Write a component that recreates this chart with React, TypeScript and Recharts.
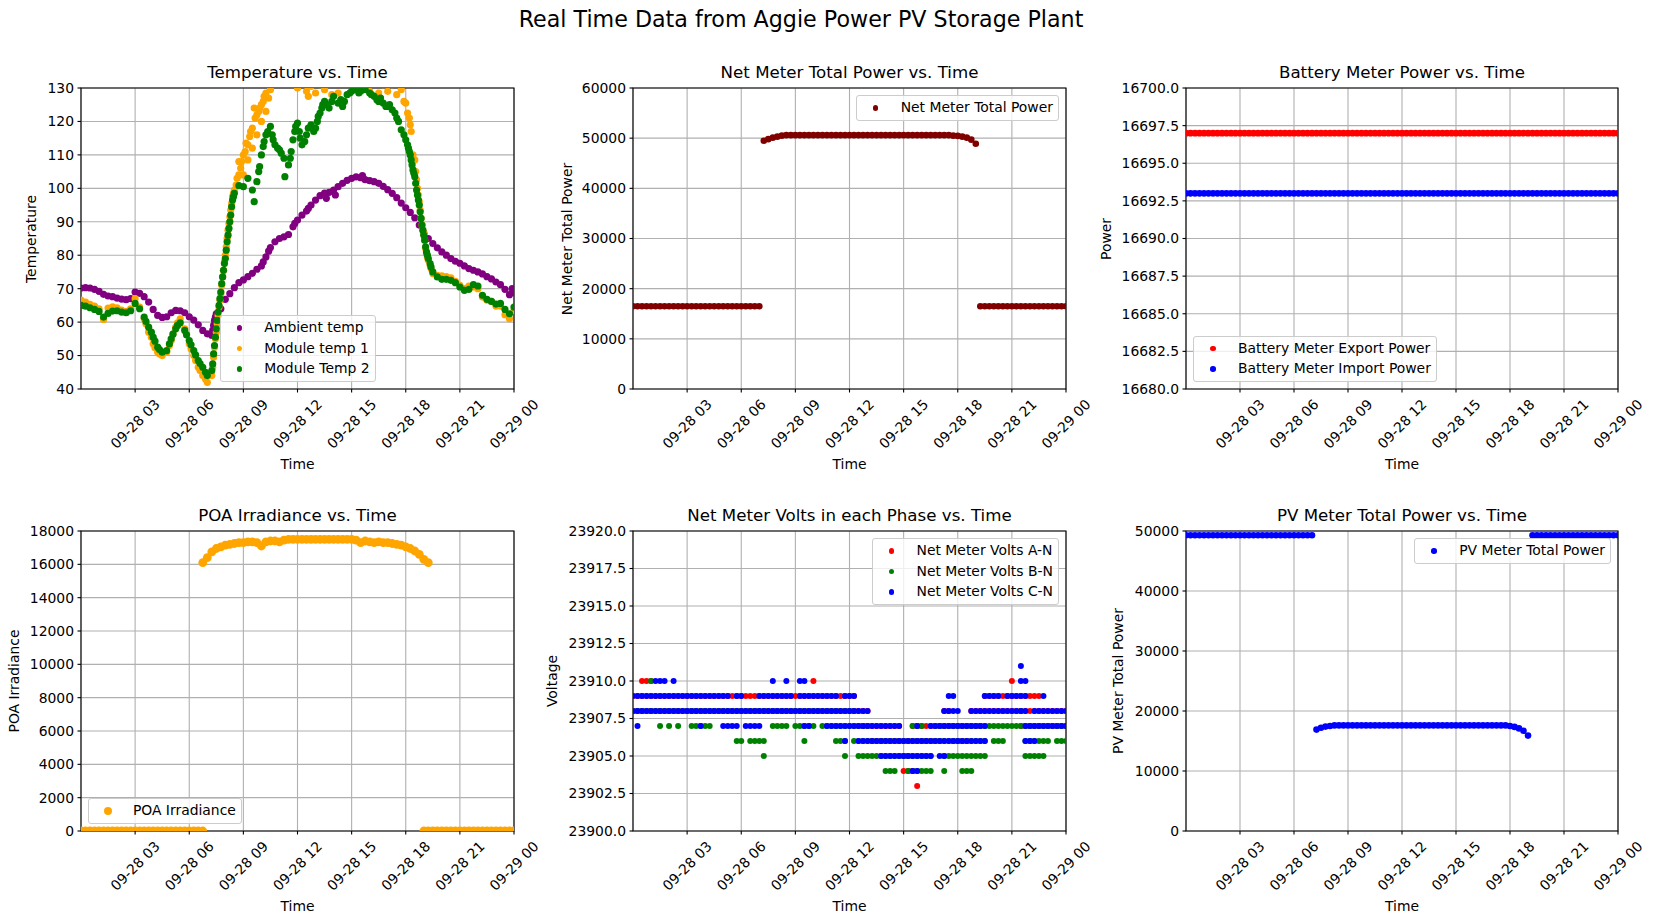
import React from 'react';
import { ScatterChart, Scatter, XAxis, YAxis, CartesianGrid, ReferenceArea } from 'recharts';

const FONT = '"DejaVu Sans", sans-serif';

// 15 minute readings, hours after 09-28 00:00
const hours = [
  0, 0.25, 0.5, 0.75, 1, 1.25, 1.5, 1.75, 2, 2.25, 2.5, 2.75,
  3, 3.25, 3.5, 3.75, 4, 4.25, 4.5, 4.75, 5, 5.25, 5.5, 5.75,
  6, 6.25, 6.5, 6.75, 7, 7.25, 7.5, 7.75, 8, 8.25, 8.5, 8.75,
  9, 9.25, 9.5, 9.75, 10, 10.25, 10.5, 10.75, 11, 11.25, 11.5, 11.75,
  12, 12.25, 12.5, 12.75, 13, 13.25, 13.5, 13.75, 14, 14.25, 14.5, 14.75,
  15, 15.25, 15.5, 15.75, 16, 16.25, 16.5, 16.75, 17, 17.25, 17.5, 17.75,
  18, 18.25, 18.5, 18.75, 19, 19.25, 19.5, 19.75, 20, 20.25, 20.5, 20.75,
  21, 21.25, 21.5, 21.75, 22, 22.25, 22.5, 22.75, 23, 23.25, 23.5, 23.75,
  24,
];

const timeTicks = [3, 6, 9, 12, 15, 18, 21, 24];
const timeTickLabels = ['09-28 03', '09-28 06', '09-28 09', '09-28 12', '09-28 15', '09-28 18', '09-28 21', '09-29 00'];

const tempTicks = [40, 50, 60, 70, 80, 90, 100, 110, 120, 130];
const netPowerTicks = [0, 10000, 20000, 30000, 40000, 50000, 60000];
const batteryTicks = [16680, 16682.5, 16685, 16687.5, 16690, 16692.5, 16695, 16697.5, 16700];
const poaTicks = [0, 2000, 4000, 6000, 8000, 10000, 12000, 14000, 16000, 18000];
const voltTicks = [23900, 23902.5, 23905, 23907.5, 23910, 23912.5, 23915, 23917.5, 23920];
const pvTicks = [0, 10000, 20000, 30000, 40000, 50000];

const ambientTemp = [
  70.2, 70.3, 70.2, 69.8, 69.2, 68.3, 67.8, 67.6, 67.2, 66.9, 66.7, 67.0,
  69.0, 68.6, 67.6, 66.0, 63.8, 62.0, 61.4, 61.6, 62.8, 63.5, 63.4, 62.8,
  61.6, 60.6, 59.2, 57.5, 56.5, 56.0, 62.5, 64.0, 66.8, 68.5, 70.3, 71.8,
  72.6, 73.6, 74.6, 75.8, 76.8, 79.5, 82.3, 84.0, 85.0, 85.5, 86.2, 88.5,
  90.5, 92.0, 93.2, 95.0, 96.5, 97.8, 98.6, 98.8, 99.5, 100.5, 101.5, 102.4,
  103.0, 103.4, 103.2, 102.6, 102.3, 102.0, 101.5, 100.6, 99.6, 98.5, 97.2, 95.6,
  94.2, 92.8, 91.2, 89.0, 86.6, 85.0, 83.5, 82.2, 81.0, 80.0, 79.0, 78.2,
  77.6, 76.8, 76.0, 75.5, 75.0, 74.4, 73.6, 72.9, 72.0, 71.2, 69.8, 68.2,
  68.8,
];
const ambientExtra = [
  [7.3, 57.5], [7.35, 59], [7.4, 60.5], [7.45, 61.5], [10.1, 78], [10.4, 81.2],
  [11.85, 89.5], [12.6, 94], [13.6, 97], [14.1, 98], [15.6, 103.8], [23.9, 70],
];

const module1Temp = [
  66.6, 66.0, 65.3, 64.8, 64.0, 60.8, 64.2, 64.6, 64.3, 63.6, 63.2, 64.0,
  67.0, 64.5, 61.0, 57.0, 53.5, 51.0, 50.0, 51.0, 54.5, 58.5, 61.0, 58.0,
  53.5, 50.0, 46.5, 44.0, 42.0, 44.0, 57.0, 68.5, 80.0, 91.5, 99.5, 104.0,
  110.0, 113.0, 118.0, 122.0, 125.0, 128.5, 129.5, 134.0, 136.0, 135.0, 133.0, 136.0,
  130.0, 133.0, 129.0, 130.5, 128.5, 131.0, 129.5, 134.0, 133.0, 128.5, 135.0, 136.0,
  137.0, 138.0, 137.0, 136.0, 129.0, 133.0, 128.5, 131.0, 129.0, 131.0, 128.0, 129.5,
  125.5, 119.0, 108.5, 96.0, 86.5, 78.5, 74.5, 74.0, 73.8, 73.6, 73.2, 72.2,
  71.0, 70.0, 70.8, 70.5, 70.0, 67.5, 66.6, 66.2, 64.8, 64.8, 62.2, 61.0,
  63.5,
];
const module1Extra = [
  [3.6, 59.5], [3.9, 55.5], [4.1, 52.3], [4.35, 50.5], [4.9, 53], [5.1, 56.5], [5.35, 59.8],
  [5.85, 56.3], [6.1, 52], [6.35, 48.5], [6.6, 45.5], [6.9, 43],
  [7.3, 46.5], [7.35, 49.5], [7.4, 52.5], [7.45, 55], [7.55, 59.5], [7.6, 62], [7.65, 64.5],
  [7.7, 66.5], [7.8, 71], [7.85, 73.5], [7.9, 75.5], [7.95, 78], [8.05, 82.5], [8.1, 85],
  [8.15, 87.5], [8.2, 89.5], [8.3, 93.5], [8.35, 95.5], [8.4, 97.5], [8.45, 98.5],
  [8.6, 101], [8.65, 103], [8.75, 108], [8.85, 106], [8.9, 108], [9.0, 104], [9.1, 111],
  [9.15, 113.5], [9.25, 108.5], [9.35, 115.5], [9.4, 117], [9.5, 112], [9.6, 124], [9.65, 121],
  [9.75, 116], [9.85, 123], [9.9, 124], [10.0, 120], [10.1, 126], [10.15, 127.5], [10.25, 123],
  [10.4, 127], [12.6, 127.5], [13.9, 128], [16.6, 127], [17.9, 126], [18.1, 122.5], [18.2, 121],
  [18.3, 117], [18.4, 110], [18.55, 105], [18.6, 102.5], [18.65, 100], [18.7, 98], [18.8, 93.5],
  [18.85, 91], [18.9, 89], [18.95, 87.5], [19.05, 84.5], [19.1, 82], [19.15, 80.5], [19.2, 79.5],
  [19.35, 77], [19.4, 76],
];

const module2Temp = [
  65.0, 64.8, 64.3, 63.8, 63.2, 61.5, 62.6, 63.3, 63.4, 63.0, 62.8, 63.4,
  65.6, 64.0, 61.5, 58.5, 55.5, 52.5, 51.0, 51.5, 55.0, 58.0, 59.8, 57.5,
  54.5, 51.5, 48.5, 46.5, 44.0, 45.5, 58.0, 69.0, 79.0, 90.0, 98.5, 100.8,
  100.5, 103.0, 99.5, 102.0, 110.0, 116.0, 118.5, 113.0, 111.5, 109.0, 107.0, 114.5,
  119.5, 113.0, 116.0, 119.0, 118.0, 122.5, 126.0, 124.0, 127.5, 125.5, 124.5, 128.0,
  129.0, 129.5, 129.0, 129.5, 128.5, 127.5, 126.0, 125.5, 124.5, 123.5, 121.0, 117.5,
  114.5, 110.0, 103.5, 95.0, 86.0, 79.0, 75.0, 73.5, 72.8, 72.8, 72.5, 71.8,
  70.5, 69.5, 69.8, 71.2, 70.8, 68.0, 66.8, 66.2, 65.4, 65.6, 63.8, 62.5,
  64.5,
];
const module2Extra = [
  [3.6, 60.2], [3.9, 57], [4.1, 54.3], [4.35, 51.8], [4.9, 53.5], [5.1, 56.4], [5.35, 59],
  [5.85, 56.2], [6.1, 53.2], [6.35, 50.2], [6.6, 47.6], [6.9, 45],
  [7.3, 47.5], [7.35, 50.5], [7.4, 53], [7.45, 55.5], [7.55, 60.5], [7.6, 63], [7.65, 65],
  [7.7, 67], [7.8, 71.5], [7.85, 73.5], [7.9, 75.5], [7.95, 77.5], [8.05, 81.5], [8.1, 84],
  [8.15, 86], [8.2, 88], [8.3, 92], [8.35, 94.5], [8.4, 96.5], [8.45, 97.5], [9.6, 96],
  [9.85, 105], [9.9, 106.5], [10.1, 112.5], [10.15, 114], [10.35, 117], [10.6, 116], [10.65, 114.5],
  [10.9, 112], [11.1, 110.5], [11.3, 103.5], [11.6, 109], [11.65, 111], [11.85, 117], [11.9, 118.5],
  [12.1, 117], [12.15, 115], [12.4, 114], [12.6, 118], [12.9, 117], [13.1, 120], [13.15, 121.5],
  [13.35, 124], [13.4, 125], [13.6, 125], [13.9, 126], [14.4, 126.5], [14.6, 126], [14.9, 128.5],
  [15.4, 128.5], [16.1, 128], [16.4, 126.5], [16.6, 127], [16.9, 124.5], [17.1, 125], [17.4, 122.5],
  [17.6, 120], [17.9, 116],
  [18.1, 113], [18.15, 112], [18.2, 111], [18.3, 108.5], [18.35, 107], [18.4, 105.5], [18.45, 104.5],
  [18.55, 101.5], [18.6, 99.5], [18.65, 98], [18.7, 96.5], [18.8, 93], [18.85, 91], [18.9, 89],
  [18.95, 87.5], [19.05, 84.5], [19.1, 82.5], [19.15, 81], [19.2, 80], [19.35, 77.5], [19.4, 76.5],
];

const netTotalPower = [
  16500, 16500, 16500, 16500, 16500, 16500, 16500, 16500, 16500, 16500, 16500, 16500,
  16500, 16500, 16500, 16500, 16500, 16500, 16500, 16500, 16500, 16500, 16500, 16500,
  16500, 16500, 16500, 16500, 16500, 49500, 49800, 50100, 50300, 50500, 50600, 50600,
  50600, 50600, 50600, 50600, 50600, 50600, 50600, 50600, 50600, 50600, 50600, 50600,
  50600, 50600, 50600, 50600, 50600, 50600, 50600, 50600, 50600, 50600, 50600, 50600,
  50600, 50600, 50600, 50600, 50600, 50600, 50600, 50600, 50600, 50600, 50600, 50500,
  50450, 50300, 50100, 49700, 48900, 16500, 16500, 16500, 16500, 16500, 16500, 16500,
  16500, 16500, 16500, 16500, 16500, 16500, 16500, 16500, 16500, 16500, 16500, 16500,
  16500,
];

const batteryExport = [
  16697, 16697, 16697, 16697, 16697, 16697, 16697, 16697, 16697, 16697, 16697, 16697,
  16697, 16697, 16697, 16697, 16697, 16697, 16697, 16697, 16697, 16697, 16697, 16697,
  16697, 16697, 16697, 16697, 16697, 16697, 16697, 16697, 16697, 16697, 16697, 16697,
  16697, 16697, 16697, 16697, 16697, 16697, 16697, 16697, 16697, 16697, 16697, 16697,
  16697, 16697, 16697, 16697, 16697, 16697, 16697, 16697, 16697, 16697, 16697, 16697,
  16697, 16697, 16697, 16697, 16697, 16697, 16697, 16697, 16697, 16697, 16697, 16697,
  16697, 16697, 16697, 16697, 16697, 16697, 16697, 16697, 16697, 16697, 16697, 16697,
  16697, 16697, 16697, 16697, 16697, 16697, 16697, 16697, 16697, 16697, 16697, 16697,
  16697,
];
const batteryImport = [
  16693, 16693, 16693, 16693, 16693, 16693, 16693, 16693, 16693, 16693, 16693, 16693,
  16693, 16693, 16693, 16693, 16693, 16693, 16693, 16693, 16693, 16693, 16693, 16693,
  16693, 16693, 16693, 16693, 16693, 16693, 16693, 16693, 16693, 16693, 16693, 16693,
  16693, 16693, 16693, 16693, 16693, 16693, 16693, 16693, 16693, 16693, 16693, 16693,
  16693, 16693, 16693, 16693, 16693, 16693, 16693, 16693, 16693, 16693, 16693, 16693,
  16693, 16693, 16693, 16693, 16693, 16693, 16693, 16693, 16693, 16693, 16693, 16693,
  16693, 16693, 16693, 16693, 16693, 16693, 16693, 16693, 16693, 16693, 16693, 16693,
  16693, 16693, 16693, 16693, 16693, 16693, 16693, 16693, 16693, 16693, 16693, 16693,
  16693,
];

const poaDay = [
  null, null, null, null, null, null, null, null, null, null, null, null,
  null, null, null, null, null, null, null, null, null, null, null, null,
  null, null, null, 16100, 16400, 16750, 16950, 17050, 17150, 17200, 17250, 17300,
  17300, 17350, 17350, 17300, 17100, 17350, 17400, 17400, 17350, 17450, 17500, 17500,
  17500, 17500, 17500, 17500, 17500, 17500, 17500, 17500, 17500, 17500, 17500, 17500,
  17500, 17450, 17300, 17400, 17350, 17300, 17350, 17300, 17300, 17250, 17200, 17150,
  17050, 16950, 16800, 16600, 16300, 16100, null, null, null, null, null, null,
  null, null, null, null, null, null, null, null, null, null, null, null,
  null,
];
const poaNight = [
  0, 0, 0, 0, 0, 0, 0, 0, 0, 0, 0, 0,
  0, 0, 0, 0, 0, 0, 0, 0, 0, 0, 0, 0,
  0, 0, 0, 0, null, null, null, null, null, null, null, null,
  null, null, null, null, null, null, null, null, null, null, null, null,
  null, null, null, null, null, null, null, null, null, null, null, null,
  null, null, null, null, null, null, null, null, null, null, null, null,
  null, null, null, null, 0, 0, 0, 0, 0, 0, 0, 0,
  0, 0, 0, 0, 0, 0, 0, 0, 0, 0, 0, 0,
  0,
];

// readings seen in each 15 minute slot
const voltsAN = [
  [23909, 23908], [23909, 23908], [23910, 23909, 23908], [23910, 23909, 23908],
  [23910, 23909, 23908], [23909, 23908], [23909, 23908], [23909, 23908],
  [23909, 23908], [23909, 23908], [23909, 23908], [23909, 23908],
  [23909, 23908], [23909, 23908], [23909, 23908], [23909, 23908],
  [23909, 23908], [23909, 23908], [23909, 23908], [23909, 23908],
  [23909, 23908], [23909, 23908], [23909, 23908], [23909, 23908],
  [23909, 23908], [23909, 23908], [23909, 23908], [23909, 23908],
  [23909, 23908], [23909, 23908], [23909, 23908], [23909, 23908],
  [23909, 23908], [23909, 23908], [23909, 23908], [23909, 23908],
  [23909, 23908], [23909, 23908], [23909, 23908], [23909, 23908],
  [23910, 23909, 23908], [23909, 23908], [23909, 23908], [23909, 23908],
  [23909, 23908], [23909, 23908], [23909, 23908], [23909, 23908],
  [23909, 23908], [23909, 23908], [23908, 23907], [23908, 23907],
  [23908, 23907], [23907, 23906], [23907, 23906], [23907, 23906],
  [23907, 23906], [23907, 23906], [23907, 23906], [23907, 23906],
  [23906, 23905, 23904], [23906, 23905, 23904], [23907, 23906, 23904], [23907, 23906, 23903],
  [23907, 23906], [23907, 23906], [23907, 23906], [23907, 23906],
  [23907, 23906], [23908, 23907], [23908, 23907], [23907, 23906],
  [23907, 23906], [23907, 23906], [23907, 23906], [23908, 23907],
  [23908, 23907], [23908, 23907], [23909, 23908], [23909, 23908],
  [23909, 23908], [23909, 23908], [23909, 23908], [23909, 23908],
  [23910, 23909, 23908], [23909, 23908], [23909, 23908, 23907], [23909, 23908, 23907],
  [23909, 23908, 23907], [23909, 23908, 23907], [23909, 23908, 23907], [23908, 23907],
  [23908, 23907], [23908, 23907], [23908, 23907], [23908, 23907],
  [23908, 23907],
];
const voltsBN = [
  [23908], [23908], [23908], [23908],
  [23910, 23908], [23908], [23908, 23907], [23908],
  [23908, 23907], [23908], [23908, 23907], [23908],
  [23908], [23908, 23907], [23908, 23907], [23908, 23907],
  [23908, 23907], [23908, 23907], [23908], [23908],
  [23908], [23908], [23908], [23908, 23906],
  [23908, 23906], [23908], [23908, 23906], [23908, 23906],
  [23908, 23906], [23908, 23906, 23905], [23908], [23908, 23907],
  [23908, 23907], [23908, 23907], [23908, 23907], [23908],
  [23908, 23907], [23908, 23907], [23908, 23907, 23906], [23908, 23907],
  [23908, 23907], [23908], [23908, 23907], [23908, 23907],
  [23908, 23907], [23908, 23907, 23906], [23908, 23907, 23906], [23908, 23907, 23906, 23905],
  [23908, 23907], [23908, 23907, 23906], [23907, 23906, 23905], [23907, 23906, 23905],
  [23907, 23906, 23905], [23906, 23905], [23906, 23905], [23906, 23905],
  [23906, 23905, 23904], [23906, 23905, 23904], [23906, 23905, 23904], [23906, 23905],
  [23906, 23905], [23906, 23905, 23904], [23907, 23906, 23905, 23904], [23907, 23906, 23905, 23904],
  [23907, 23906, 23905, 23904], [23906, 23905, 23904], [23906, 23905, 23904], [23907, 23906],
  [23907, 23906], [23907, 23906, 23905, 23904], [23907, 23906, 23905], [23907, 23906, 23905],
  [23907, 23906, 23905], [23907, 23906, 23905, 23904], [23907, 23906, 23905, 23904], [23907, 23906, 23905, 23904],
  [23907, 23906, 23905], [23907, 23906, 23905], [23907, 23906, 23905], [23907],
  [23907, 23906], [23907, 23906], [23907, 23906], [23907],
  [23907], [23907], [23908, 23907], [23907, 23906, 23905],
  [23907, 23906, 23905], [23907, 23906, 23905], [23907, 23906, 23905], [23907, 23906, 23905],
  [23907, 23906], [23907], [23907, 23906], [23907, 23906],
  [23907, 23906],
];
const voltsCN = [
  [23909, 23908], [23909, 23908, 23907], [23909, 23908], [23909, 23908],
  [23909, 23908], [23910, 23909, 23908], [23910, 23909, 23908], [23910, 23909, 23908],
  [23909, 23908], [23910, 23909, 23908], [23909, 23908], [23909, 23908],
  [23909, 23908], [23909, 23908], [23909, 23908], [23909, 23908, 23907],
  [23909, 23908], [23909, 23908], [23909, 23908], [23909, 23908],
  [23909, 23908, 23907], [23909, 23908, 23907], [23908, 23907], [23909, 23908, 23907],
  [23909, 23908], [23908, 23907], [23908, 23907], [23908, 23907],
  [23909, 23908, 23907], [23909, 23908], [23909, 23908], [23910, 23909, 23908],
  [23909, 23908], [23909, 23908], [23910, 23909, 23908], [23909, 23908],
  [23908], [23910, 23909, 23908], [23910, 23909, 23908, 23907], [23909, 23908, 23907],
  [23909, 23908], [23909, 23908], [23909, 23908], [23909, 23908, 23907],
  [23909, 23908, 23907], [23909, 23908, 23907], [23908, 23907], [23909, 23908, 23907, 23906],
  [23909, 23908, 23907], [23909, 23908, 23907], [23908, 23907, 23906], [23908, 23907, 23906],
  [23908, 23907, 23906], [23907, 23906], [23907, 23906], [23907, 23906, 23905],
  [23907, 23906, 23905], [23907, 23906, 23905], [23907, 23906, 23905], [23907, 23906, 23905],
  [23906, 23905], [23906, 23905], [23906, 23905, 23904], [23907, 23906, 23905, 23904],
  [23906, 23905], [23906, 23905], [23907, 23906, 23905], [23907, 23906],
  [23907, 23906, 23905], [23908, 23907, 23906, 23905], [23909, 23908, 23907, 23906], [23909, 23908, 23907, 23906],
  [23908, 23907, 23906], [23907, 23906], [23907, 23906], [23908, 23907, 23906],
  [23908, 23907, 23906], [23908, 23907, 23906], [23909, 23908, 23907, 23906], [23909, 23908],
  [23909, 23908], [23909, 23908], [23908], [23909, 23908],
  [23909, 23908], [23909, 23908], [23911, 23910, 23909, 23908], [23910, 23909, 23908, 23907, 23906],
  [23907, 23906], [23908, 23907, 23906], [23908, 23907], [23909, 23908, 23907],
  [23908, 23907], [23908, 23907], [23908, 23907], [23908, 23907],
  [23908, 23907],
];

const pvTotalPower = [
  49300, 49300, 49300, 49300, 49300, 49300, 49300, 49300, 49300, 49300, 49300, 49300,
  49300, 49300, 49300, 49300, 49300, 49300, 49300, 49300, 49300, 49300, 49300, 49300,
  49300, 49300, 49300, 49300, 49300, 16900, 17200, 17400, 17500, 17600, 17600, 17600,
  17600, 17600, 17600, 17600, 17600, 17600, 17600, 17600, 17600, 17600, 17600, 17600,
  17600, 17600, 17600, 17600, 17600, 17600, 17600, 17600, 17600, 17600, 17600, 17600,
  17600, 17600, 17600, 17600, 17600, 17600, 17600, 17600, 17600, 17600, 17600, 17600,
  17500, 17350, 17100, 16700, 15900, 49300, 49300, 49300, 49300, 49300, 49300, 49300,
  49300, 49300, 49300, 49300, 49300, 49300, 49300, 49300, 49300, 49300, 49300, 49300,
  49300,
];

type Pt = { t: number; v: number };

const onGrid = (vals: (number | null)[]): Pt[] =>
  hours.flatMap((t, i) => (vals[i] == null ? [] : [{ t, v: vals[i] as number }]));
const fromPairs = (pairs: number[][]): Pt[] => pairs.map(([t, v]) => ({ t, v }));
const fromSlots = (slots: number[][]): Pt[] => hours.flatMap((t, i) => slots[i].map((v) => ({ t, v })));

// r: marker radius on the plot, lr: marker radius in the legend
type Series = { name: string; color: string; r: number; lr: number; points: Pt[] };

const asInt = (v: number) => String(v);
const oneDecimal = (v: number) => v.toFixed(1);

function TimeTick(props: any) {
  const { x, y, payload } = props;
  const label = timeTickLabels[timeTicks.indexOf(payload.value)];
  const cy = y + 27.8;
  return (
    <text
      x={x}
      y={cy}
      textAnchor="middle"
      dominantBaseline="central"
      fontSize={13.9}
      fill="#000"
      transform={`rotate(-45 ${x} ${cy})`}
    >
      {label}
    </text>
  );
}

const dot = (color: string, r: number) => (p: any) =>
  p.cx == null ? <g /> : <circle cx={p.cx} cy={p.cy} r={r} fill={color} />;

type LegendPlace = 'upperRight' | 'lowerLeft' | 'lowerCenter';

function PanelLegend({ items, place, left, top, width, height }: {
  items: Series[]; place: LegendPlace; left: number; top: number; width: number; height: number;
}) {
  const pos: React.CSSProperties = {};
  if (place === 'upperRight') {
    pos.right = 1668 - (left + width - 7);
    pos.top = top + 7;
  } else if (place === 'lowerLeft') {
    pos.left = left + 7;
    pos.bottom = 923 - (top + height - 7);
  } else {
    pos.left = left + width / 2;
    pos.bottom = 923 - (top + height - 7);
    pos.transform = 'translateX(-50%)';
  }
  return (
    <div
      style={{
        position: 'absolute',
        background: 'rgba(255,255,255,0.8)',
        border: '1px solid #cccccc',
        borderRadius: 3,
        padding: 5,
        ...pos,
      }}
    >
      {items.map((it, i) => (
        <div key={it.name} style={{ display: 'flex', alignItems: 'center', height: 13.6, marginTop: i ? 7 : 0 }}>
          <div style={{ width: 27.8, display: 'flex', justifyContent: 'center' }}>
            <span style={{ display: 'block', width: it.lr * 2, height: it.lr * 2, borderRadius: '50%', background: it.color }} />
          </div>
          <span style={{ marginLeft: 11.1, fontSize: 13.9, lineHeight: '13.6px', whiteSpace: 'nowrap', color: '#000' }}>
            {it.name}
          </span>
        </div>
      ))}
    </div>
  );
}

type PanelProps = {
  left: number;
  top: number;
  width: number;
  height: number;
  title: string;
  yLabel: string;
  yLabelX: number;
  yDomain: [number, number];
  yTicks: number[];
  yFormat: (v: number) => string;
  series: Series[];
  legend: LegendPlace;
};

function Panel(p: PanelProps) {
  const ML = 80;
  const MT = 40;
  const MR = 60;
  const MB = 90;
  return (
    <>
      <div style={{ position: 'absolute', left: p.left - ML, top: p.top - MT }}>
        <ScatterChart
          width={ML + p.width + MR}
          height={MT + p.height + MB}
          margin={{ top: MT, right: MR, bottom: MB - 80, left: ML - 75 }}
        >
          <XAxis
            type="number"
            dataKey="t"
            domain={[0, 24]}
            ticks={timeTicks}
            interval={0}
            allowDataOverflow
            height={80}
            tickSize={3.5}
            tickMargin={3.5}
            axisLine={false}
            tickLine={{ stroke: '#000', strokeWidth: 1.1 }}
            tick={<TimeTick />}
          />
          <YAxis
            type="number"
            dataKey="v"
            domain={p.yDomain}
            ticks={p.yTicks}
            interval={0}
            allowDataOverflow
            width={75}
            tickSize={3.5}
            tickMargin={3.5}
            axisLine={false}
            tickLine={{ stroke: '#000', strokeWidth: 1.1 }}
            tick={{ fill: '#000', fontSize: 13.9 }}
            tickFormatter={p.yFormat}
          />
          {p.series.map((s, i) => (
            <Scatter
              key={`${s.name}-${i}`}
              name={s.name}
              data={s.points}
              fill={s.color}
              isAnimationActive={false}
              shape={dot(s.color, s.r)}
            />
          ))}
          <CartesianGrid stroke="#b0b0b0" strokeWidth={1.1} />
          <ReferenceArea
            x1={0}
            x2={24}
            y1={p.yDomain[0]}
            y2={p.yDomain[1]}
            fill="none"
            stroke="#000"
            strokeWidth={1.1}
            ifOverflow="visible"
          />
        </ScatterChart>
      </div>
      <div
        style={{
          position: 'absolute',
          left: p.left + p.width / 2 - 300,
          width: 600,
          top: p.top - 25,
          lineHeight: '20px',
          textAlign: 'center',
          fontSize: 16.67,
          color: '#000',
        }}
      >
        {p.title}
      </div>
      <div
        style={{
          position: 'absolute',
          left: p.left + p.width / 2 - 100,
          width: 200,
          top: p.top + p.height + 75 - 9,
          lineHeight: '18px',
          textAlign: 'center',
          fontSize: 13.9,
          color: '#000',
        }}
      >
        Time
      </div>
      <div
        style={{
          position: 'absolute',
          left: p.yLabelX - 150,
          width: 300,
          top: p.top + p.height / 2 - 9,
          lineHeight: '18px',
          textAlign: 'center',
          fontSize: 13.9,
          color: '#000',
          transform: 'rotate(-90deg)',
        }}
      >
        {p.yLabel}
      </div>
      <PanelLegend
        items={p.series}
        place={p.legend}
        left={p.left}
        top={p.top}
        width={p.width}
        height={p.height}
      />
    </>
  );
}

const PURPLE = '#800080';
const ORANGE = '#ffa500';
const GREEN = '#008000';
const MAROON = '#800000';
const RED = '#ff0000';
const BLUE = '#0000ff';

export default function App() {
  const tempSeries: Series[] = [
    { name: 'Ambient temp', color: PURPLE, r: 3.6, lr: 2.8, points: [...onGrid(ambientTemp), ...fromPairs(ambientExtra)] },
    { name: 'Module temp 1', color: ORANGE, r: 3.6, lr: 2.8, points: [...onGrid(module1Temp), ...fromPairs(module1Extra)] },
    { name: 'Module Temp 2', color: GREEN, r: 3.6, lr: 2.8, points: [...onGrid(module2Temp), ...fromPairs(module2Extra)] },
  ];
  const netSeries: Series[] = [
    { name: 'Net Meter Total Power', color: MAROON, r: 3.3, lr: 2.8, points: onGrid(netTotalPower) },
  ];
  const batterySeries: Series[] = [
    { name: 'Battery Meter Export Power', color: RED, r: 3.4, lr: 2.8, points: onGrid(batteryExport) },
    { name: 'Battery Meter Import Power', color: BLUE, r: 3.4, lr: 2.8, points: onGrid(batteryImport) },
  ];
  const poaSeries: Series[] = [
    { name: 'POA Irradiance', color: ORANGE, r: 4.4, lr: 4.2, points: [...onGrid(poaNight), ...onGrid(poaDay)] },
  ];
  const voltSeries: Series[] = [
    { name: 'Net Meter Volts A-N', color: RED, r: 3, lr: 2.8, points: fromSlots(voltsAN) },
    { name: 'Net Meter Volts B-N', color: GREEN, r: 3, lr: 2.8, points: fromSlots(voltsBN) },
    { name: 'Net Meter Volts C-N', color: BLUE, r: 3, lr: 2.8, points: fromSlots(voltsCN) },
  ];
  const pvSeries: Series[] = [
    { name: 'PV Meter Total Power', color: BLUE, r: 3.3, lr: 2.8, points: onGrid(pvTotalPower) },
  ];

  return (
    <div
      style={{
        position: 'absolute',
        left: 0,
        top: 0,
        width: 1668,
        height: 923,
        background: '#fff',
        fontFamily: FONT,
        overflow: 'hidden',
      }}
    >
      <div
        style={{
          position: 'absolute',
          left: 401,
          width: 800,
          top: 6,
          lineHeight: '26px',
          textAlign: 'center',
          fontSize: 22.2,
          color: '#000',
        }}
      >
        Real Time Data from Aggie Power PV Storage Plant
      </div>
      <Panel
        left={81} top={88} width={433} height={301}
        title="Temperature vs. Time" yLabel="Temperature" yLabelX={31}
        yDomain={[40, 130]} yTicks={tempTicks} yFormat={asInt}
        series={tempSeries} legend="lowerCenter"
      />
      <Panel
        left={633} top={88} width={433} height={301}
        title="Net Meter Total Power vs. Time" yLabel="Net Meter Total Power" yLabelX={567}
        yDomain={[0, 60000]} yTicks={netPowerTicks} yFormat={asInt}
        series={netSeries} legend="upperRight"
      />
      <Panel
        left={1186} top={88} width={432} height={301}
        title="Battery Meter Power vs. Time" yLabel="Power" yLabelX={1106}
        yDomain={[16680, 16700]} yTicks={batteryTicks} yFormat={oneDecimal}
        series={batterySeries} legend="lowerLeft"
      />
      <Panel
        left={81} top={531} width={433} height={300}
        title="POA Irradiance vs. Time" yLabel="POA Irradiance" yLabelX={14}
        yDomain={[0, 18000]} yTicks={poaTicks} yFormat={asInt}
        series={poaSeries} legend="lowerLeft"
      />
      <Panel
        left={633} top={531} width={433} height={300}
        title="Net Meter Volts in each Phase vs. Time" yLabel="Voltage" yLabelX={552}
        yDomain={[23900, 23920]} yTicks={voltTicks} yFormat={oneDecimal}
        series={voltSeries} legend="upperRight"
      />
      <Panel
        left={1186} top={531} width={432} height={300}
        title="PV Meter Total Power vs. Time" yLabel="PV Meter Total Power" yLabelX={1118}
        yDomain={[0, 50000]} yTicks={pvTicks} yFormat={asInt}
        series={pvSeries} legend="upperRight"
      />
    </div>
  );
}
